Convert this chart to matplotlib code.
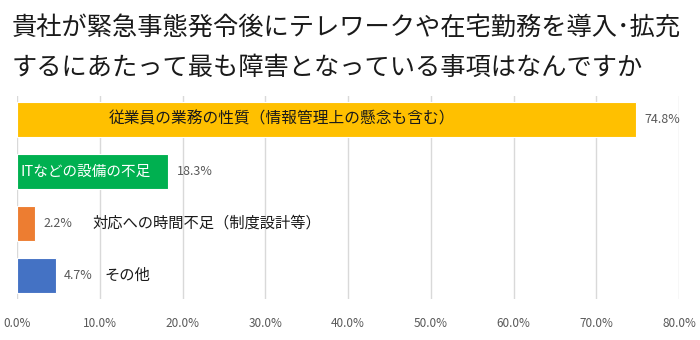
import matplotlib
matplotlib.use('Agg')
from matplotlib import pyplot as plt
from matplotlib.ticker import FuncFormatter

plt.rcParams['font.family'] = ['Noto Sans CJK JP', 'DejaVu Sans']

title_lines = ['貴社が緊急事態発令後にテレワークや在宅勤務を導入･拡充',
               'するにあたって最も障害となっている事項はなんですか']
categories = ['従業員の業務の性質（情報管理上の懸念も含む）', 'ITなどの設備の不足',
              '対応への時間不足（制度設計等）', 'その他']
values = [74.8, 18.3, 2.2, 4.7]
colors = ['#FFC000', '#00B050', '#ED7D31', '#4472C4']
xticks = [0, 10, 20, 30, 40, 50, 60, 70, 80]

fig = plt.figure(figsize=(7, 3.4), dpi=100)
ax = fig.add_axes([17/700, 1 - 299/340, 662/700, 203/340])

ypos = list(range(len(values)))
bars = ax.barh(ypos, values, height=0.67, color=colors, edgecolor='white', linewidth=0.8, zorder=3)
ax.set_ylim(3.45, -0.45)
ax.set_xlim(0, 80)
ax.set_xticks(xticks)
ax.xaxis.set_major_formatter(FuncFormatter(lambda v, p: '%.1f%%' % v))
ax.set_yticks([])
ax.grid(axis='x', color='#D9D9D9', linewidth=1, zorder=0)
for s in ax.spines.values():
    s.set_visible(False)
ax.tick_params(axis='x', length=0, labelsize=8.5, labelcolor='#595959', pad=13)

# value labels
for i, v in enumerate(values):
    ax.text(v + 1.0, i, '%.1f%%' % v, va='center', ha='left', fontsize=9, color='#595959')

# category labels
ax.text(32.0, 0, categories[0], va='center', ha='center', fontsize=11.3, color='#1a1a1a')
ax.text(0.4, 1, categories[1], va='center', ha='left', fontsize=10.5, color='white')
ax.text(values[2] + 6.9, 2, categories[2], va='center', ha='left', fontsize=11, color='#1a1a1a')
ax.text(values[3] + 5.9, 3, categories[3], va='center', ha='left', fontsize=11, color='#1a1a1a')

# two-line title
for k, line in enumerate(title_lines):
    fig.text(12/700, 1 - (28 + 40 * k)/340, line, ha='left', va='center',
             fontsize=18.2, color='#1a1a1a')

fig.savefig('out.png', dpi=100)
